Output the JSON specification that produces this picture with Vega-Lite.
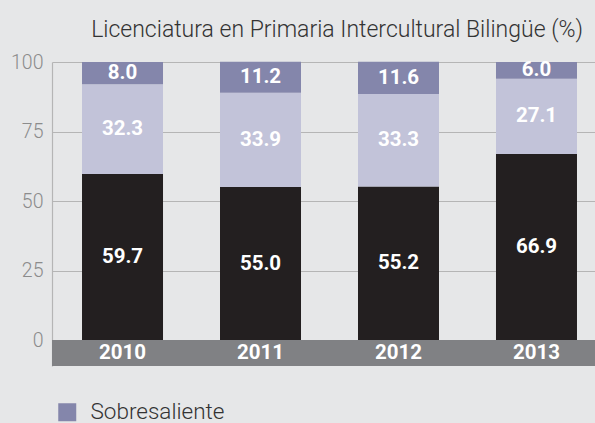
{
  "$schema": "https://vega.github.io/schema/vega-lite/v6.json",
  "autosize": {"type": "none"},
  "width": 543,
  "height": 304,
  "padding": {"left": 52, "top": 62, "right": 0, "bottom": 57},
  "background": "#e6e7e8",
  "config": {
    "view": {"stroke": null},
    "font": "Roboto",
    "axis": {"labelFont": "Roboto"}
  },
  "title": {
    "text": "Licenciatura en Primaria Intercultural Bilingüe (%)",
    "orient": "top",
    "anchor": "end",
    "frame": "group",
    "baseline": "alphabetic",
    "offset": -8,
    "dx": -12,
    "font": "Roboto",
    "fontWeight": 300,
    "fontSize": 23,
    "color": "#333333"
  },
  "data": {
    "values": [
      {"year": "2010", "level": "Aún no satisfactorio", "rank": 1, "value": 59.7},
      {"year": "2010", "level": "Satisfactorio", "rank": 2, "value": 32.3},
      {"year": "2010", "level": "Sobresaliente", "rank": 3, "value": 8.0},
      {"year": "2011", "level": "Aún no satisfactorio", "rank": 1, "value": 55.0},
      {"year": "2011", "level": "Satisfactorio", "rank": 2, "value": 33.9},
      {"year": "2011", "level": "Sobresaliente", "rank": 3, "value": 11.2},
      {"year": "2012", "level": "Aún no satisfactorio", "rank": 1, "value": 55.2},
      {"year": "2012", "level": "Satisfactorio", "rank": 2, "value": 33.3},
      {"year": "2012", "level": "Sobresaliente", "rank": 3, "value": 11.6},
      {"year": "2013", "level": "Aún no satisfactorio", "rank": 1, "value": 66.9},
      {"year": "2013", "level": "Satisfactorio", "rank": 2, "value": 27.1},
      {"year": "2013", "level": "Sobresaliente", "rank": 3, "value": 6.0}
    ]
  },
  "transform": [
    {"stack": "value", "groupby": ["year"], "sort": [{"field": "rank", "order": "ascending"}], "as": ["v0", "v1"]},
    {"calculate": "(datum.v0 + datum.v1) / 2", "as": "mid"}
  ],
  "encoding": {
    "x": {
      "field": "year",
      "type": "nominal",
      "axis": null,
      "scale": {"paddingInner": 0.413, "paddingOuter": 0.174, "align": 0.625}
    }
  },
  "layer": [
    {
      "mark": {"type": "rect", "color": "#808184"},
      "encoding": {
        "x": null,
        "y": {"datum": -9.35, "type": "quantitative"},
        "y2": {"datum": 0}
      }
    },
    {
      "mark": {"type": "bar"},
      "encoding": {
        "y": {
          "field": "v0",
          "type": "quantitative",
          "scale": {"domain": [-9.35, 100], "nice": false, "zero": false},
          "axis": {
            "values": [0, 25, 50, 75, 100],
            "title": null,
            "ticks": false,
            "grid": true,
            "gridColor": "#b5b5b5",
            "gridWidth": 1.2,
            "domainColor": "#b5b5b5",
            "domainWidth": 1.2,
            "labelColor": "#8c8c8c",
            "labelFontSize": 19.5,
            "labelFontWeight": 300,
            "labelPadding": 9
          }
        },
        "y2": {"field": "v1"},
        "color": {
          "field": "level",
          "type": "nominal",
          "scale": {
            "domain": ["Sobresaliente", "Satisfactorio", "Aún no satisfactorio"],
            "range": ["#8486ab", "#c2c3d9", "#231f20"]
          },
          "legend": {
            "values": ["Sobresaliente"],
            "title": null,
            "orient": "none",
            "legendX": 4,
            "legendY": 339,
            "symbolType": "square",
            "symbolSize": 324,
            "symbolStrokeWidth": 0,
            "labelFont": "Roboto",
            "labelFontWeight": 300,
            "labelFontSize": 22.5,
            "labelColor": "#333333",
            "labelOffset": 12
          }
        }
      }
    },
    {
      "mark": {"type": "text", "color": "white", "font": "Roboto", "fontWeight": "bold", "fontSize": 20.5, "baseline": "middle"},
      "encoding": {
        "y": {"field": "mid", "type": "quantitative"},
        "text": {"field": "value", "type": "quantitative", "format": ".1f"}
      }
    },
    {
      "transform": [{"filter": "datum.rank == 1"}],
      "mark": {"type": "text", "color": "white", "font": "Roboto", "fontWeight": "bold", "fontSize": 20.5, "baseline": "middle"},
      "encoding": {
        "y": {"datum": -4.675, "type": "quantitative"},
        "text": {"field": "year", "type": "nominal"}
      }
    }
  ]
}
